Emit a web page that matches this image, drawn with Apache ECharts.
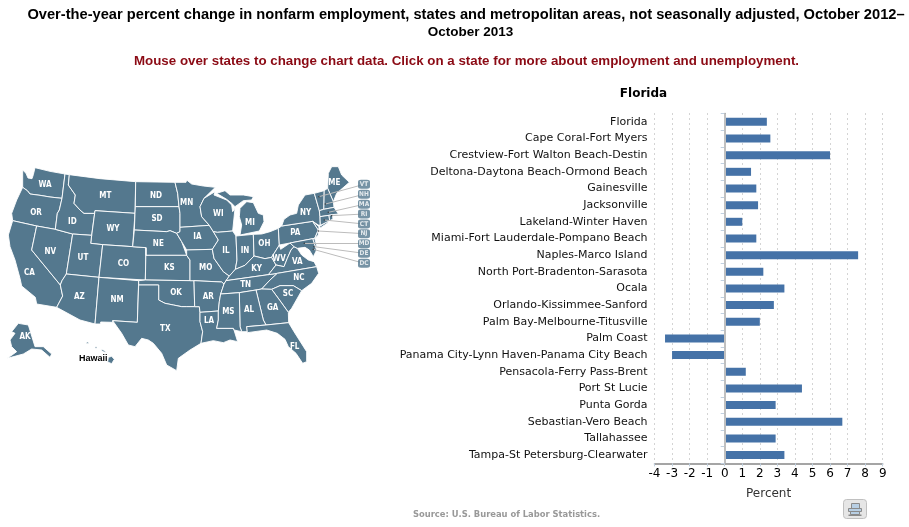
<!DOCTYPE html>
<html><head><meta charset="utf-8">
<style>html,body{margin:0;padding:0;background:#fff}#c{width:909px;height:527px}</style>
<script src="https://cdn.jsdelivr.net/npm/echarts@6/dist/echarts.min.js"></script></head>
<body><div id="c"></div>
<script>
const categories=["Florida","Cape Coral-Fort Myers","Crestview-Fort Walton Beach-Destin","Deltona-Daytona Beach-Ormond Beach","Gainesville","Jacksonville","Lakeland-Winter Haven","Miami-Fort Lauderdale-Pompano Beach","Naples-Marco Island","North Port-Bradenton-Sarasota","Ocala","Orlando-Kissimmee-Sanford","Palm Bay-Melbourne-Titusville","Palm Coast","Panama City-Lynn Haven-Panama City Beach","Pensacola-Ferry Pass-Brent","Port St Lucie","Punta Gorda","Sebastian-Vero Beach","Tallahassee","Tampa-St Petersburg-Clearwater"];
const percentChange=[2.4,2.6,6.0,1.5,1.8,1.9,1.0,1.8,7.6,2.2,3.4,2.8,2.0,-3.4,-3.0,1.2,4.4,2.9,6.7,2.9,3.4];

const westStates={
WA:{cp:[135,105],p:[[[68,60],[78,70],[84,84],[96,86],[100,74],[105,53],[150,64],[195,72],[186,145],[150,141],[120,136],[90,132],[82,122],[68,112]]]},
OR:{cp:[108,188],p:[[[68,112],[82,122],[90,132],[120,136],[150,141],[186,145],[178,180],[172,190],[166,238],[110,228],[38,212],[35,190],[50,150]]]},
CA:{cp:[88,368],p:[[[38,212],[110,228],[95,300],[181,405],[188,438],[170,472],[110,462],[106,442],[65,408],[60,385],[45,330],[30,290],[25,255]]]},
NV:{cp:[151,306],p:[[[110,228],[166,238],[218,252],[199,372],[186,392],[181,405],[95,300]]]},
ID:{cp:[217,215],p:[[[195,72],[208,74],[205,105],[226,135],[222,160],[240,180],[252,190],[284,190],[275,256],[218,252],[166,238],[172,190],[178,180],[186,145]]]},
MT:{cp:[316,138],p:[[[208,74],[300,86],[407,95],[405,190],[285,182],[284,190],[252,190],[240,180],[222,160],[226,135],[205,105]]]},
WY:{cp:[339,236],p:[[[285,182],[405,190],[398,290],[308,284],[272,280]]]},
UT:{cp:[249,324],p:[[[218,252],[275,256],[272,280],[308,284],[297,382],[199,372]]]},
CO:{cp:[370,342],p:[[[308,284],[398,290],[438,293],[436,390],[297,382]]]},
AZ:{cp:[238,442],p:[[[199,372],[297,382],[285,522],[240,510],[170,472],[188,438],[181,405],[186,392]]]},
NM:{cp:[351,451],p:[[[297,382],[416,392],[412,517],[338,512],[338,517],[302,516],[302,522],[285,522]]]},
ND:{cp:[468,137],p:[[[407,95],[525,97],[533,130],[537,170],[406,170]]]},
SD:{cp:[471,206],p:[[[406,170],[537,170],[540,190],[540,245],[530,250],[510,242],[500,245],[403,240],[405,190]]]},
NE:{cp:[475,281],p:[[[403,240],[500,245],[510,242],[530,250],[545,275],[560,316],[438,316],[438,293],[398,290]]]},
KS:{cp:[508,355],p:[[[438,316],[560,316],[570,330],[570,392],[436,390],[438,293]]]},
OK:{cp:[528,430],p:[[[416,392],[436,390],[570,392],[582,392],[584,470],[560,470],[545,470],[520,465],[495,460],[476,450],[476,405],[416,405]]]},
TX:{cp:[496,537],p:[[[416,405],[476,405],[476,450],[495,460],[520,465],[545,470],[560,470],[584,470],[598,470],[600,487],[600,515],[608,545],[603,580],[570,600],[535,625],[530,662],[500,645],[485,610],[460,580],[445,570],[425,565],[405,590],[385,585],[365,550],[338,512],[412,517]]]},
AK:{cp:[75,561],p:[[[55,520],[85,525],[105,590],[130,590],[155,612],[150,622],[125,600],[95,597],[70,612],[22,625],[50,605],[35,590],[30,570],[45,550],[35,545]]]},
HI:{cp:[0,0],p:[[[259,576],[266,576],[266,581],[259,581]],[[285,590],[291,590],[291,595],[285,595]],[[304,598],[310,600],[323,610],[320,612],[306,604]],[[325,622],[335,619],[343,628],[335,641],[323,636]]]}
};
const eastShift=570;
const eastStates={
MN:{cp:[-10,160],p:[[[-45,97],[-12,97],[-10,90],[5,102],[40,108],[76,112],[42,145],[30,170],[35,200],[58,226],[-30,232],[-30,190],[-33,170],[-37,130]]]},
IA:{cp:[22,261],p:[[[-30,232],[58,226],[70,245],[85,270],[67,298],[-10,300],[-25,275],[-40,250],[-30,245]]]},
MO:{cp:[47,355],p:[[[-10,300],[67,298],[72,325],[100,365],[118,378],[108,392],[102,402],[95,396],[12,392],[0,392],[0,330],[-10,316]]]},
AR:{cp:[55,440],p:[[[12,392],[95,396],[102,402],[92,432],[88,455],[85,483],[30,487],[28,470],[14,470]]]},
LA:{cp:[57,513],p:[[[30,487],[85,483],[85,510],[80,535],[130,535],[132,540],[143,575],[120,570],[100,578],[70,572],[33,580],[38,545],[30,515]]]},
WI:{cp:[85,192],p:[[[42,145],[75,125],[72,135],[110,150],[125,165],[128,185],[135,175],[128,243],[82,247],[70,245],[58,226],[35,200],[30,170]]]},
MI:{cp:[180,220],p:[[[80,130],[105,122],[120,135],[160,135],[190,140],[185,150],[160,152],[135,170],[125,160],[110,148]],[[150,175],[170,155],[190,158],[205,190],[220,195],[222,215],[208,243],[150,255],[155,225],[148,200]]]},
IL:{cp:[108,302],p:[[[82,247],[128,243],[138,258],[141,330],[136,358],[118,378],[100,365],[72,325],[67,298],[85,270],[70,245]]]},
IN:{cp:[165,302],p:[[[138,258],[190,253],[192,318],[165,346],[136,358],[141,330]]]},
OH:{cp:[223,282],p:[[[190,253],[215,252],[240,245],[265,235],[268,285],[245,322],[225,326],[192,318]]]},
KY:{cp:[200,356],p:[[[118,378],[136,358],[165,346],[192,318],[225,326],[245,322],[258,345],[240,368],[235,374],[108,392]]]},
TN:{cp:[167,405],p:[[[108,392],[235,374],[262,370],[240,390],[215,417],[198,420],[148,428],[92,432],[102,402]]]},
WV:{cp:[267,326],p:[[[245,322],[268,285],[272,298],[300,279],[312,290],[303,300],[292,325],[282,350],[258,345]]]},
VA:{cp:[322,337],p:[[[235,374],[262,370],[380,350],[372,335],[355,330],[335,315],[322,295],[312,290],[303,300],[292,325],[282,350],[258,345],[240,368]]]},
NC:{cp:[327,385],p:[[[262,370],[380,350],[386,370],[365,400],[335,422],[310,407],[270,407],[245,418],[215,417],[240,390]]]},
SC:{cp:[294,433],p:[[[245,418],[270,407],[310,407],[335,422],[305,475],[295,487],[270,452]]]},
GA:{cp:[248,473],p:[[[198,420],[215,417],[245,418],[270,452],[295,487],[296,518],[228,525],[220,510]]]},
AL:{cp:[177,480],p:[[[148,428],[198,420],[220,510],[228,525],[170,530],[172,545],[155,545],[150,530]]]},
MS:{cp:[115,485],p:[[[92,432],[148,428],[150,530],[155,545],[132,540],[130,535],[80,535],[85,510],[85,483],[88,455]]]},
FL:{cp:[314,590],p:[[[170,530],[228,525],[296,518],[312,545],[350,605],[350,635],[338,640],[318,610],[295,590],[285,568],[262,550],[230,540],[172,548]]]},
PA:{cp:[316,250],p:[[[265,235],[275,228],[368,214],[385,240],[374,265],[300,279],[268,285]]]},
NY:{cp:[347,190],p:[[[275,228],[282,208],[300,195],[320,190],[325,165],[345,135],[373,130],[388,182],[390,200],[391,226],[385,225],[368,214]],[[388,230],[412,214],[414,218],[392,233]]]},
ME:{cp:[433,99],p:[[[413,115],[415,70],[425,50],[445,50],[455,75],[478,97],[440,130],[430,155]]]},
NH:{cp:[0,0],p:[[[402,122],[413,115],[430,155],[432,172],[401,178]]]},
VT:{cp:[0,0],p:[[[373,130],[402,122],[401,178],[388,182]]]},
MA:{cp:[0,0],p:[[[388,182],[401,178],[432,172],[445,192],[427,194],[417,196],[390,200]]]},
CT:{cp:[0,0],p:[[[390,200],[417,196],[419,212],[391,226]]]},
RI:{cp:[0,0],p:[[[417,196],[427,194],[429,207],[419,212]]]},
NJ:{cp:[0,0],p:[[[368,214],[387,230],[385,255],[374,266],[385,240]]]},
DE:{cp:[0,0],p:[[[368,266],[374,265],[381,290],[376,290]]]},
MD:{cp:[0,0],p:[[[300,279],[368,266],[376,290],[380,300],[370,320],[358,300],[345,292],[322,295],[312,290]]]}
};
const tagNames=["VT","NH","MA","RI","CT","NJ","MD","DE","DC"];
const tagYs=[103,133,163,192,222,251,281,310,340];
const tagX=522;
const tagAnchors=[[387,140],[406,162],[415,187],[425,197],[403,210],[385,243],[343,280],[372,290],[370,298]];

const features=[];
const addStates=(set,dx)=>{for(const k in set){const s=set[k];
  features.push({type:'Feature',properties:{name:k,cp:[s.cp[0]+dx,s.cp[1]]},
   geometry:{type:'MultiPolygon',coordinates:s.p.map(r=>[r.concat([r[0]]).map(q=>[q[0]+dx,q[1]])])}});}};
addStates(westStates,0);addStates(eastStates,eastShift);
echarts.registerMap('us',{type:'FeatureCollection',features});

const chart=echarts.init(document.getElementById('c'));
const MAPFILL='#54788e';
const tagSet=new Set(tagNames.concat(['HI']));
const bb={x0:22,x1:1048,y0:50,y1:662};
const condensed='"DejaVu Sans Condensed","Roboto",sans-serif';
chart.setOption({
 animation:false,
 title:[
  {text:'Over-the-year percent change in nonfarm employment, states and metropolitan areas, not seasonally adjusted, October 2012–',left:466,top:7,padding:0,textAlign:'center',textStyle:{fontFamily:'Liberation Sans',fontSize:14.66,fontWeight:'bold',color:'#000'}},
  {text:'October 2013',left:470.5,top:25.5,padding:0,textAlign:'center',textStyle:{fontFamily:'Liberation Sans',fontSize:13.5,fontWeight:'bold',color:'#000'}},
  {text:'Mouse over states to change chart data. Click on a state for more about employment and unemployment.',left:466.5,top:55,padding:0,textAlign:'center',textStyle:{fontFamily:'Liberation Sans',fontSize:13.33,fontWeight:'bold',color:'#8b0a14'}},
  {text:'Florida',left:643.5,top:88,padding:0,textAlign:'center',textStyle:{fontFamily:'DejaVu Sans',fontSize:12,fontWeight:'bold',color:'#000'}},
  {text:'Source: U.S. Bureau of Labor Statistics.',left:506.5,top:511,padding:0,textAlign:'center',textStyle:{fontFamily:'DejaVu Sans',fontSize:8.4,fontWeight:'bold',color:'#999'}}
 ],
 geo:{map:'us',silent:true,roam:false,
  projection:{project:p=>p,unproject:p=>p},
  left:bb.x0/3,top:150+bb.y0/3,width:(bb.x1-bb.x0)/3,height:(bb.y1-bb.y0)/3,
  itemStyle:{areaColor:MAPFILL,borderColor:'#fff',borderWidth:0.9},
  label:{show:true,color:'#fff',fontFamily:condensed,fontWeight:'bold',fontSize:8,
   formatter:p=>tagSet.has(p.name)?'':p.name},
  emphasis:{disabled:true}
 },
 grid:{left:654.5,top:113.5,width:228.2,height:349.9,containLabel:false},
 xAxis:{type:'value',min:-4,max:9,interval:1,
  name:'Percent',nameLocation:'middle',nameGap:24,nameTextStyle:{fontFamily:'DejaVu Sans',fontSize:12,color:'#333'},
  axisLine:{show:true,onZero:false,lineStyle:{color:'#888',width:1.5}},
  axisTick:{show:true,length:3,lineStyle:{color:'#c0d0e0'}},
  axisLabel:{fontFamily:'DejaVu Sans',fontSize:12,color:'#000',margin:4},
  splitLine:{show:true,lineStyle:{type:[1,4],color:'#a8a8a8',width:1}}},
 yAxis:{type:'category',inverse:true,data:categories,
  axisLine:{show:true,lineStyle:{color:'#888',width:1.5}},
  axisTick:{show:true,length:4,alignWithLabel:false,lineStyle:{color:'#c0d0e0'}},
  axisLabel:{fontFamily:'DejaVu Sans',fontSize:11,color:'#111',margin:7,interval:0}},
 series:[
  {type:'bar',data:percentChange,barWidth:8,itemStyle:{color:'#4572a7'},silent:true,
   markLine:{silent:true,symbol:'none',label:{show:false},lineStyle:{color:'#c0c0c0',width:2,type:'solid'},data:[{xAxis:0}]}},
  {type:'lines',coordinateSystem:'geo',silent:true,lineStyle:{color:'#bcbcbc',width:1,opacity:1},
   data:tagNames.map((n,i)=>({coords:[[tagAnchors[i][0]+eastShift,tagAnchors[i][1]],[tagX+eastShift,tagYs[i]]]}))},
  {type:'scatter',coordinateSystem:'geo',silent:true,symbol:'circle',symbolSize:1.5,itemStyle:{color:'#222'},
   data:tagAnchors.map(a=>[a[0]+eastShift,a[1]])},
  {type:'scatter',coordinateSystem:'geo',silent:true,symbol:'roundRect',symbolSize:[12,9],itemStyle:{color:MAPFILL},
   label:{show:true,position:'inside',color:'#fff',fontFamily:condensed,fontWeight:'bold',fontSize:6.5,formatter:p=>p.name},
   data:tagNames.map((n,i)=>({name:n,value:[tagX+eastShift,tagYs[i]]}))}
 ],
 graphic:[
  {type:'text',left:79,top:354,style:{text:'Hawaii',fontFamily:'Liberation Sans',fontWeight:'bold',fontSize:9,fill:'#000'}},
  {type:'group',left:843,top:499,children:[
   {type:'rect',shape:{x:0,y:0,width:23,height:19,r:3},style:{fill:'#e6e6e6',stroke:'#c0c0c0',lineWidth:1}},
   {type:'rect',shape:{x:8,y:4,width:8,height:5},style:{fill:'#b8cfe4',stroke:'#8a8a8a',lineWidth:1}},
   {type:'rect',shape:{x:5,y:9,width:13,height:3},style:{fill:'#b8cfe4',stroke:'#8a8a8a',lineWidth:1}},
   {type:'rect',shape:{x:7,y:12,width:9,height:3},style:{fill:'#b8cfe4',stroke:'#8a8a8a',lineWidth:1}},
   {type:'rect',shape:{x:5,y:15,width:13,height:1.5},style:{fill:'#8a8a8a'}}
  ]}
 ]
});
</script></body></html>
